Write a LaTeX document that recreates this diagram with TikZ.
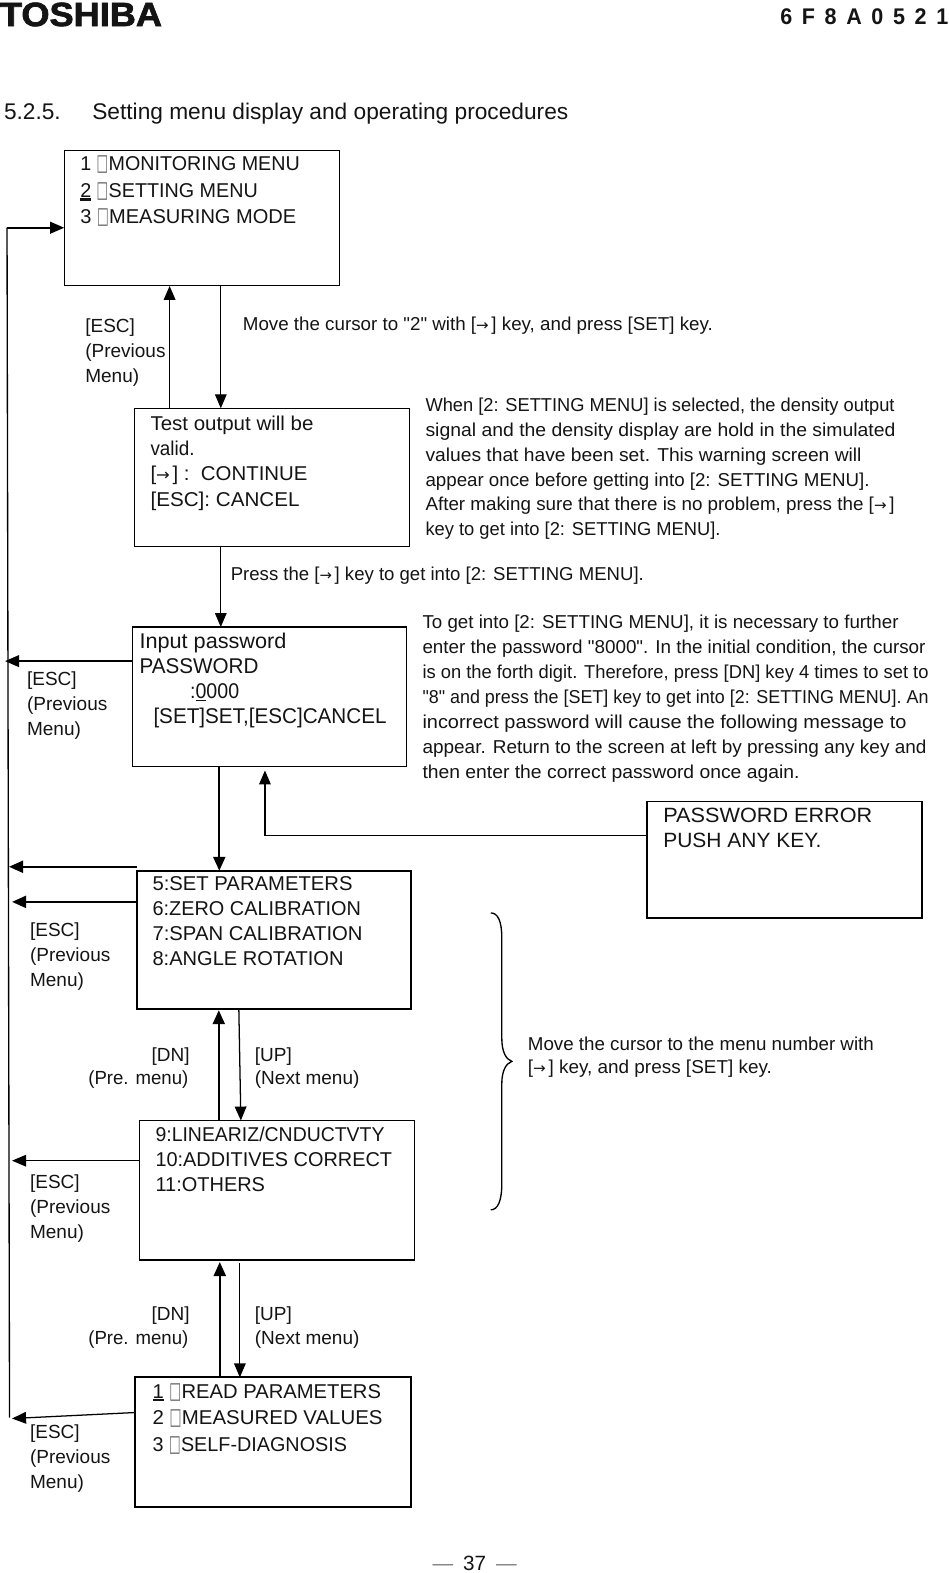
\documentclass[tikz,border=0pt]{standalone}
\usepackage{fontspec}
\usepackage{graphicx}
\setmainfont{Liberation Sans}[Ligatures=TeXOff]
\newfontfamily\symfont{DejaVu Sans}
\newfontfamily\logofont{Liberation Sans}[BoldFeatures={FakeBold=2}]
\usetikzlibrary{arrows.meta,fit}
\newlength\pxu \setlength\pxu{0.75pt}
\newcommand\fs[2]{\fontsize{#1}{#2}\selectfont}
\newcommand\fw[2]{\resizebox{#1\pxu}{\height}{#2}}
\newcommand\tofu{\textcolor{black!60}{\scalebox{.62}[1.15]{\symfont □}}\kern.3pt}
\newcommand\keyarrow{\scalebox{.8}[.8]{\symfont →}\kern2pt}
\definecolor{ink}{gray}{0.08}
\tikzset{
  menubox/.style={draw=black,line width=.85pt,inner sep=0pt,outer sep=0pt,rectangle},
  para/.style={anchor=north west,inner sep=0pt,outer sep=0pt,align=left,text=ink,
    execute at begin node={\rule{0pt}{12pt}}},
  line/.style={anchor=base west,inner sep=0pt,outer sep=0pt,text=ink},
  thinarr/.style={draw=black,line width=.95pt,-{Triangle[length=10.5pt,width=8.7pt]}},
  thickarr/.style={draw=black,line width=1.7pt,-{Triangle[length=10.5pt,width=9pt]}},
  esclabel/.style={para,font=\fs{14.25}{18.8}},
}
\begin{document}
\begin{tikzpicture}[x=0.7527pt,y=-0.7524pt]
\useasboundingbox (0,0) rectangle (945.6,1568);

% header
\node[line,font=\fs{17}{20}] (logo) at (0,26) {\resizebox{162\pxu}{23.5\pxu}{\logofont\bfseries TOSHIBA}};
\node[line,font=\fs{17}{20}\bfseries] (docno) at (777.5,24) {\fw{168}{6\hspace{7.6pt}F\hspace{7.6pt}8\hspace{7.6pt}A\hspace{7.6pt}0\hspace{7.6pt}5\hspace{7.6pt}2\hspace{7.6pt}1}};
\node[line,font=\fs{17}{20}] (secno) at (4,119) {5.2.5.};
\node[line,font=\fs{17}{20}] (title) at (92,119) {\fw{476}{Setting menu display and operating procedures}};

% boxes
\node[menubox,fit={(64,150) (338,285)}] (b1) {};
\node[menubox,fit={(134,407) (408,545)}] (b2) {};
\node[menubox,line width=1.1pt,fit={(132,625) (405,764)}] (b3) {};
\node[menubox,line width=1.5pt,fit={(137,868) (410,1006)}] (b4) {};
\node[menubox,line width=1.2pt,fit={(139,1117) (413,1256)}] (b5) {};
\node[menubox,line width=1.5pt,fit={(135,1373) (410,1502)}] (b6) {};
\node[menubox,line width=1.4pt,fit={(645,799) (919,915)}] (b7) {};

% box texts
\node[para,font=\fs{15}{19.9}] (t1) at (80,155.5) {\fw{219.5}{1 \tofu MONITORING MENU}\\\fw{177.5}{\rlap{\rule[-2.4pt]{8.3pt}{1.7pt}}2 \tofu SETTING MENU}\\\fw{216}{3 \tofu MEASURING MODE}};
\node[para,font=\fs{15}{18.8}] (t2) at (150,415) {\fw{163}{Test output will be}\\\fw{44}{valid.}\\\fw{157}{[\keyarrow] :\ \ CONTINUE}\\\fw{149}{[ESC]: CANCEL}};
\node[para,font=\fs{16}{18.8}] (t3) at (139,631) {\fw{147}{Input password}\\\fw{119}{PASSWORD}\\\hspace{38pt}\fw{49}{:\rlap{\rule[-1.8pt]{8.9pt}{.8pt}}0000}\\\hspace{10.5pt}\fw{233}{[SET]SET,[ESC]CANCEL}};
\node[para,font=\fs{15}{18.8}] (t4) at (152,874) {\fw{200}{5:SET PARAMETERS}\\\fw{208.5}{6:ZERO CALIBRATION}\\\fw{210}{7:SPAN CALIBRATION}\\\fw{191}{8:ANGLE ROTATION}};
\node[para,font=\fs{15}{18.8}] (t5) at (155,1123) {\fw{229}{9:LINEARIZ/CNDUCTVTY}\\\fw{236.5}{10:ADDITIVES CORRECT}\\\fw{109.5}{11:OTHERS}};
\node[para,font=\fs{15}{19.9}] (t6) at (152,1379) {\fw{228.5}{\rlap{\rule[-1.8pt]{8.3pt}{.9pt}}1 \tofu READ PARAMETERS}\\\fw{230}{2 \tofu MEASURED VALUES}\\\fw{194.5}{3 \tofu SELF-DIAGNOSIS}};
\node[para,font=\fs{15.5}{18.8}] (t7) at (661,805) {\fw{209}{PASSWORD ERROR}\\\fw{158}{PUSH ANY KEY.}};

% ESC labels
\node[esclabel] (e1) at (85,318) {[ESC]\\(Previous\\Menu)};
\node[esclabel] (e3) at (27,669.5) {[ESC]\\(Previous\\Menu)};
\node[esclabel] (e4) at (30,920) {[ESC]\\(Previous\\Menu)};
\node[esclabel] (e5) at (30,1171) {[ESC]\\(Previous\\Menu)};
\node[esclabel] (e6) at (30,1420) {[ESC]\\(Previous\\Menu)};

% DN / UP labels
\node[line,font=\fs{14.25}{17}] (dn1) at (151,1058) {[DN]};
\node[line,font=\fs{14.25}{17}] (pre1) at (88,1081) {\fw{100}{(Pre. menu)}};
\node[line,font=\fs{14.25}{17}] (up1) at (254,1058) {[UP]};
\node[line,font=\fs{14.25}{17}] (next1) at (254,1081) {(Next menu)};
\node[line,font=\fs{14.25}{17}] (dn2) at (151,1316) {[DN]};
\node[line,font=\fs{14.25}{17}] (pre2) at (88,1340) {\fw{100}{(Pre. menu)}};
\node[line,font=\fs{14.25}{17}] (up2) at (254,1316) {[UP]};
\node[line,font=\fs{14.25}{17}] (next2) at (254,1340) {(Next menu)};

% notes
\node[line,font=\fs{14}{17}] (n1) at (242,329) {\fw{470}{Move the cursor to "2" with [\keyarrow] key, and press [SET] key.}};
\node[line,font=\fs{14}{17}] (n2) at (230,579) {\fw{413}{Press the [\keyarrow] key to get into [2: SETTING MENU].}};
\node[para,font=\fs{14}{18.8}] (n3) at (424,397) {\fw{469}{When [2: SETTING MENU] is selected, the density output}\\
\fw{470}{signal and the density display are hold in the simulated}\\
\fw{436}{values that have been set. This warning screen will}\\
\fw{444}{appear once before getting into [2: SETTING MENU].}\\[-1.5pt]
\fw{469}{After making sure that there is no problem, press the [\keyarrow]}\\
\fw{295}{key to get into [2: SETTING MENU].}};
\node[para,font=\fs{14}{18.8}] (n4) at (421,613) {\fw{476}{To get into [2: SETTING MENU], it is necessary to further}\\
\fw{503}{enter the password "8000". In the initial condition, the cursor}\\
\fw{506}{is on the forth digit. Therefore, press [DN] key 4 times to set to}\\
\fw{506}{"8" and press the [SET] key to get into [2: SETTING MENU]. An}\\
\fw{484}{incorrect password will cause the following message to}\\
\fw{504}{appear. Return to the screen at left by pressing any key and}\\
\fw{377}{then enter the correct password once again.}};
\node[para,font=\fs{14}{17.3}] (n5) at (526,1034) {\fw{346}{Move the cursor to the menu number with}\\\fw{244}{[\keyarrow] key, and press [SET] key.}};
\node[line,font=\fs{15.5}{18}] (page) at (431,1565.5) {\textcolor{gray}{—}\hspace{7.5pt}37\hspace{7.5pt}\textcolor{gray}{—}};

% left return rail
\coordinate (railtop) at (7,227);
\coordinate (railbot) at (9.5,1413);
\draw[line width=1pt] (railbot) -- (railtop);
\draw[thinarr,line width=1.4pt] (railtop) -- (railtop -| b1.west);

% vertical connectors
\draw[thinarr,line width=1.2pt] (169,0 |- b2.north) -- (169,0 |- b1.south);
\draw[thinarr] (220,0 |- b1.south) -- (220,0 |- b2.north);
\draw[thinarr] (220,0 |- b2.south) -- (220,0 |- b3.north);
\draw[thickarr] (218.5,0 |- b3.south) -- (218.5,0 |- b4.north);
\draw[thickarr] (218,0 |- b5.north) -- (218,1007);
\coordinate (up1top) at (238,1007);
\coordinate (up1bot) at (240,1117);
\draw[thinarr] (up1top) -- (up1bot);
\draw[thickarr] (219,0 |- b6.north) -- (219,1258);
\coordinate (up2top) at (239,1259);
\draw[thinarr] (up2top) -- (239,0 |- b6.north);

% password error return
\coordinate (pwbend) at (264,833);
\coordinate (pwtip) at (264,768);
\draw[thinarr] (pwbend -| b7.west) -- (pwbend) -- (pwtip);

% ESC returns
\coordinate (r3) at (5,659);
\coordinate (r4a) at (9,864);
\coordinate (r4b) at (12,899);
\coordinate (r5) at (12,1157);
\coordinate (r6) at (12,1414);
\draw[thinarr,line width=1.4pt] (b3.west |- r3) -- (r3);
\draw[thickarr,line width=1.5pt] (b4.west |- r4a) -- (r4a);
\draw[thickarr,line width=1.5pt] (b4.west |- r4b) -- (r4b);
\draw[thinarr] (b5.west |- r5) -- (r5);
\draw[thinarr] (135,1408) -- (r6);

% brace
\draw[line width=1pt] (489,910) .. controls (496,910) and (500,918) .. (500,935) -- (500,1035) .. controls (500,1048) and (504,1056) .. (510,1058) .. controls (504,1060) and (500,1068) .. (500,1080) -- (500,1180) .. controls (500,1197) and (496,1206) .. (489,1206);
\end{tikzpicture}
\end{document}
